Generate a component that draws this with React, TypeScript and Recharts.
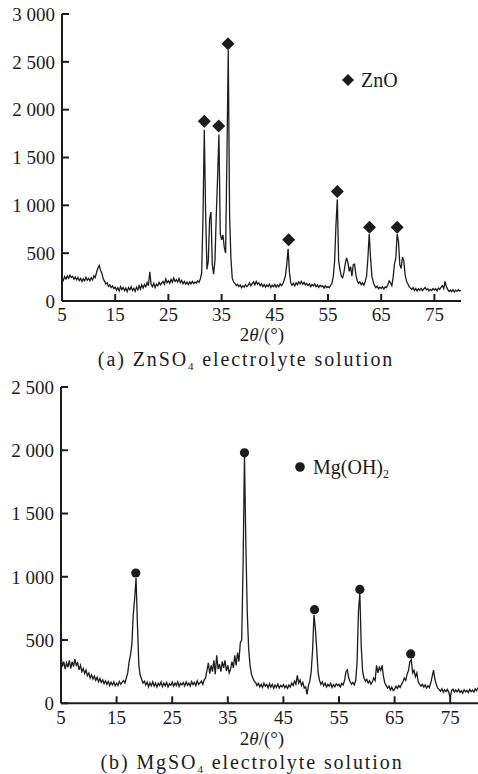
import { ComposedChart, Line, Scatter, XAxis, YAxis, Legend, Label } from "recharts";

const INK = "#1c1c1c";
const SERIF = '"Liberation Serif", "Times New Roman", serif';

// 2θ scan, one reading every 0.25° from 5° to 80°
const SCAN_START = 5;
const SCAN_STEP = 0.25;

const angleTicks = [5, 15, 25, 35, 45, 55, 65, 75];
const zincCountTicks = [0, 500, 1000, 1500, 2000, 2500, 3000];
const magnesiumCountTicks = [0, 500, 1000, 1500, 2000, 2500];

// (a) ZnSO4 electrolyte
const zincCounts = [
  240, 215, 255, 230, 262, 238, 270, 245, 258, 228, 250, 222, 246, 214, 236, 205, 232, 210, 248, 218, // 5°
  236, 212, 244, 220, 262, 245, 300, 345, 372, 318, 290, 232, 205, 178, 190, 152, 168, 140, 158, 130, // 10°
  145, 112, 138, 104, 150, 120, 142, 108, 135, 98, 140, 116, 150, 110, 132, 100, 145, 118, 160, 125, // 15°
  168, 135, 172, 150, 195, 160, 305, 175, 150, 185, 140, 176, 160, 195, 170, 188, 205, 175, 230, 190, // 20°
  212, 185, 225, 196, 240, 205, 222, 198, 235, 192, 215, 180, 205, 176, 198, 172, 200, 178, 205, 182, // 25°
  198, 185, 210, 195, 230, 290, 870, 1790, 900, 330, 420, 860, 930, 380, 280, 420, 900, 1300, 1740, 700, // 30°
  640, 690, 560, 500, 1500, 2620, 900, 450, 240, 200, 185, 160, 175, 150, 168, 140, 160, 145, 170, 150, // 35°
  165, 190, 158, 182, 200, 170, 205, 175, 190, 160, 180, 150, 172, 145, 168, 150, 175, 140, 165, 150, // 40°
  172, 145, 168, 150, 180, 160, 178, 215, 265, 380, 545, 300, 190, 165, 185, 158, 190, 170, 200, 180, // 45°
  205, 175, 195, 168, 185, 160, 178, 150, 172, 158, 180, 150, 168, 142, 165, 150, 158, 135, 160, 140, // 50°
  150, 138, 165, 185, 260, 420, 800, 1060, 420, 330, 260, 245, 300, 390, 450, 400, 310, 360, 260, 380, // 55°
  385, 270, 210, 185, 200, 170, 190, 165, 205, 260, 450, 700, 450, 260, 200, 160, 140, 155, 128, 145, // 60°
  130, 150, 125, 148, 140, 170, 210, 190, 160, 250, 390, 450, 700, 620, 380, 340, 460, 420, 270, 210, // 65°
  180, 150, 135, 120, 140, 110, 130, 105, 128, 112, 132, 108, 125, 140, 118, 128, 105, 122, 110, 130, // 70°
  115, 128, 105, 135, 120, 145, 160, 130, 205, 150, 122, 100, 115, 98, 118, 95, 112, 100, 118, 105, 110, // 75°
];

const zincPeakAngles = [31.75, 34.45, 36.2, 47.6, 56.75, 62.8, 68.0];
const zincPeakCounts = [1880, 1830, 2690, 640, 1145, 770, 770];

// (b) MgSO4 electrolyte
const magnesiumCounts = [
  380, 290, 330, 270, 320, 285, 340, 275, 330, 290, 350, 300, 320, 265, 300, 250, 275, 235, 262, 218, // 5°
  240, 200, 225, 190, 215, 182, 205, 170, 196, 165, 185, 155, 178, 150, 172, 140, 168, 145, 170, 138, // 10°
  160, 140, 172, 150, 165, 180, 160, 200, 240, 330, 380, 470, 700, 830, 990, 620, 300, 220, 190, 160, // 15°
  175, 145, 168, 130, 162, 138, 170, 135, 160, 128, 158, 140, 168, 132, 160, 138, 165, 130, 155, 142, // 20°
  168, 135, 160, 140, 170, 132, 158, 145, 165, 138, 170, 142, 160, 135, 172, 148, 165, 140, 178, 150, // 25°
  160, 175, 150, 185, 200, 260, 320, 235, 300, 250, 340, 230, 380, 270, 310, 250, 330, 280, 340, 255, // 30°
  300, 240, 270, 330, 280, 380, 300, 400, 330, 480, 500, 1100, 1960, 1250, 720, 430, 300, 230, 200, 175, // 35°
  165, 140, 158, 130, 150, 125, 160, 135, 148, 122, 155, 128, 150, 118, 145, 125, 152, 120, 142, 130, // 40°
  148, 122, 140, 118, 145, 128, 160, 140, 175, 150, 220, 160, 185, 140, 165, 120, 130, 70, 140, 175, // 45°
  250, 420, 700, 590, 420, 240, 180, 150, 170, 138, 160, 128, 150, 135, 158, 125, 148, 130, 155, 140, // 50°
  150, 130, 158, 145, 180, 250, 265, 200, 170, 150, 165, 145, 180, 320, 730, 870, 450, 250, 200, 175, // 55°
  190, 160, 178, 150, 170, 200, 180, 300, 240, 285, 260, 300, 210, 160, 140, 120, 135, 105, 128, 100, // 60°
  110, 135, 118, 140, 125, 150, 170, 200, 180, 230, 260, 330, 345, 240, 260, 210, 240, 170, 150, 135, // 65°
  150, 128, 145, 120, 140, 125, 160, 210, 262, 190, 150, 120, 110, 95, 115, 88, 108, 92, 110, 85, // 70°
  45, 100, 112, 88, 105, 90, 110, 85, 100, 80, 108, 90, 102, 85, 110, 92, 105, 88, 115, 100, 125, // 75°
];

const magnesiumPeakAngles = [18.45, 38.0, 50.6, 58.75, 67.9];
const magnesiumPeakCounts = [1030, 1980, 740, 900, 390];

const toProfile = (counts: number[]) =>
  counts.map((c, i) => ({ angle: SCAN_START + i * SCAN_STEP, counts: c }));

const toPeaks = (angles: number[], counts: number[]) =>
  angles.map((a, i) => ({ angle: a, counts: counts[i] }));

// "3 000" style thousands
const formatCount = (v: number) =>
  v >= 1000 ? `${Math.floor(v / 1000)} ${String(v % 1000).padStart(3, "0")}` : String(v);

const Diamond = (props: any) => {
  const { cx, cy } = props;
  const r = 6.5;
  return <polygon points={`${cx},${cy - r} ${cx + r},${cy} ${cx},${cy + r} ${cx - r},${cy}`} fill={INK} />;
};

const Dot = (props: any) => <circle cx={props.cx} cy={props.cy} r={4.6} fill={INK} />;

interface PanelProps {
  counts: number[];
  peaks: { angle: number; counts: number }[];
  yTicks: number[];
  height: number;
  margin: { top: number; right: number; left: number; bottom: number };
  yAxisWidth: number;
  xAxisHeight: number;
  marker: "diamond" | "dot";
  phase: React.ReactNode;
  legendPos: { left: number; top: number };
  letter: string;
  salt: string;
  titleX: number;
  captionX: number;
  titleDy: number;
  captionDy: number;
}

function Panel(p: PanelProps) {
  const yMax = p.yTicks[p.yTicks.length - 1];
  const Shape = p.marker === "diamond" ? Diamond : Dot;

  return (
    <ComposedChart width={478} height={p.height} data={toProfile(p.counts)} margin={p.margin}>
      <XAxis
        dataKey="angle"
        type="number"
        domain={[5, 80]}
        ticks={angleTicks}
        interval={0}
        allowDataOverflow
        stroke={INK}
        strokeWidth={2}
        tickSize={-7}
        tickMargin={14}
        height={p.xAxisHeight}
        tick={{ fill: INK, fontSize: 19, fontFamily: SERIF }}
      >
        <Label
          content={(lp: any) => {
            const y = lp.viewBox.y;
            return (
              <g fontFamily={SERIF} fill={INK}>
                <text x={p.titleX} y={y + p.titleDy} textAnchor="middle" fontSize={19}>
                  2<tspan fontStyle="italic">θ</tspan>/(°)
                </text>
                <text x={p.captionX} y={y + p.captionDy} textAnchor="middle" fontSize={20} letterSpacing={1.9}>
                  ({p.letter}) {p.salt}SO<tspan dy={4} fontSize={11}>4</tspan>
                  <tspan dy={-4}> electrolyte solution</tspan>
                </text>
              </g>
            );
          }}
        />
      </XAxis>
      <YAxis
        type="number"
        domain={[0, yMax]}
        ticks={p.yTicks}
        interval={0}
        width={p.yAxisWidth}
        stroke={INK}
        strokeWidth={2}
        tickSize={-7}
        tickMargin={14}
        tickFormatter={formatCount}
        tick={{ fill: INK, fontSize: 19, fontFamily: SERIF }}
      />
      <Legend
        align="center"
        verticalAlign="middle"
        layout="horizontal"
        wrapperStyle={{ left: p.legendPos.left, top: p.legendPos.top, width: 130, height: 40 }}
        content={() => (
          <svg width={130} height={40}>
            {p.marker === "diamond" ? (
              <polygon points="10,14 16,20 10,26 4,20" fill={INK} />
            ) : (
              <circle cx={10} cy={20} r={4.8} fill={INK} />
            )}
            <text x={23} y={27} fontFamily={SERIF} fontSize={20} fill={INK}>
              {p.phase}
            </text>
          </svg>
        )}
      />
      <Line
        dataKey="counts"
        type="linear"
        stroke={INK}
        strokeWidth={1.3}
        dot={false}
        isAnimationActive={false}
        legendType="none"
      />
      <Scatter
        data={p.peaks}
        dataKey="counts"
        shape={Shape}
        isAnimationActive={false}
        legendType="none"
      />
    </ComposedChart>
  );
}

export default function App() {
  return (
    <div style={{ position: "absolute", left: 0, top: 0, width: 478, height: 774, background: "#fff" }}>
      <Panel
        counts={zincCounts}
        peaks={toPeaks(zincPeakAngles, zincPeakCounts)}
        yTicks={zincCountTicks}
        height={376}
        margin={{ top: 14, right: 17, left: 0, bottom: 0 }}
        yAxisWidth={62}
        xAxisHeight={75}
        marker="diamond"
        phase="ZnO"
        legendPos={{ left: 338, top: 60 }}
        letter="a"
        salt="Zn"
        titleX={262}
        captionX={246}
        titleDy={40}
        captionDy={65}
      />
      <div style={{ position: "absolute", left: 0, top: 376 }}>
        <Panel
          counts={magnesiumCounts}
          peaks={toPeaks(magnesiumPeakAngles, magnesiumPeakCounts)}
          yTicks={magnesiumCountTicks}
          height={398}
          margin={{ top: 11, right: 0, left: 0, bottom: 0 }}
          yAxisWidth={61}
          xAxisHeight={70.7}
          marker="dot"
          phase={
            <>
              Mg(OH)<tspan dy={4} fontSize={12}>2</tspan>
            </>
          }
          legendPos={{ left: 290, top: 71 }}
          letter="b"
          salt="Mg"
          titleX={262}
          captionX={252}
          titleDy={42}
          captionDy={66}
        />
      </div>
    </div>
  );
}
